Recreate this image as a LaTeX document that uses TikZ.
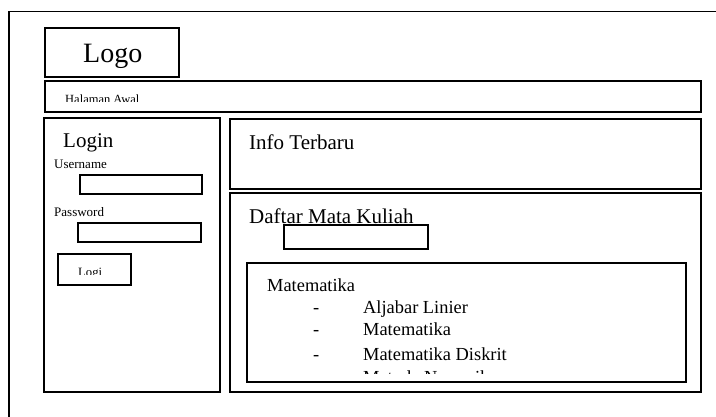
\documentclass[tikz,border=0pt]{standalone}
\usepackage{fontspec}
\setmainfont{Liberation Serif}
\newcommand\fs[1]{\fontsize{#1}{#1}\selectfont}
\begin{document}
\begin{tikzpicture}[x=1pt,y=-1pt,
  panel/.style={draw, line width=1.7pt, inner sep=0pt, anchor=north west},
  field/.style={panel, line width=1.6pt},
  txt/.style={inner sep=0pt, anchor=base west},
]
\useasboundingbox (0,0) rectangle (716,417);

% page frame, running off the right and bottom edges
\coordinate (frameBL) at (9,440);
\coordinate (frameTL) at (9,11.5);
\coordinate (frameTR) at (740,11.5);
\draw[line width=1.4pt] (frameBL) -- (frameTL) -- (frameTR);

% header
\node[panel, minimum width=134, minimum height=49] (logo) at (44,27) {};
\node[txt] (logoText) at (83,63) {\fs{28}Logo};
\node[panel, minimum width=656, minimum height=31] (nav) at (44,80) {};
\begin{scope}
  \clip (46,82) rectangle (698,101.5);
  \node[txt] (navText) at (65,103.5) {\fs{12.5}Halaman Awal};
\end{scope}

% login panel
\node[panel, minimum width=176, minimum height=274] (login) at (43,117) {};
\node[txt] (loginTitle) at (63,148) {\fs{21}Login};
\node[txt] (userLabel) at (54,169) {\fs{13}Username};
\node[field, minimum width=122, minimum height=19] (userField) at (79,174) {};
\node[txt] (passLabel) at (54,217) {\fs{13}Password};
\node[field, minimum width=123, minimum height=19] (passField) at (77,222) {};
\node[field, minimum width=73, minimum height=31] (loginBtn) at (57,253) {};
\begin{scope}
  \clip (70,256) rectangle (101.5,274.3);
  \node[txt] (loginBtnText) at (78,276.8) {\fs{12.7}Login};
\end{scope}

% news panel
\node[panel, minimum width=471, minimum height=70] (info) at (229,118) {};
\node[txt] (infoTitle) at (249,150) {\fs{21}Info Terbaru};

% course list panel
\node[panel, minimum width=471, minimum height=199] (daftar) at (229,192) {};
\node[txt] (daftarTitle) at (249,224) {\fs{21}Daftar Mata Kuliah};
\node[field, minimum width=144, minimum height=24] (search) at (283,224) {};
\node[field, minimum width=439, minimum height=119] (list) at (246,262) {};
\node[txt] (listTitle) at (267,291) {\fs{18.4}Matematika};
\foreach \y/\name [count=\i] in {313/Aljabar Linier, 336/Matematika, 360/Matematika Diskrit}{
  \node[txt] (dash\i) at (313,\y) {\fs{18.4}-};
  \node[txt] (item\i) at (363,\y) {\fs{18.4}\name};
}
\begin{scope}
  \clip (340,364) rectangle (680,373.2);
  \node[txt] (item4) at (363,383) {\fs{18.4}Metode Numerik};
\end{scope}
\end{tikzpicture}
\end{document}
